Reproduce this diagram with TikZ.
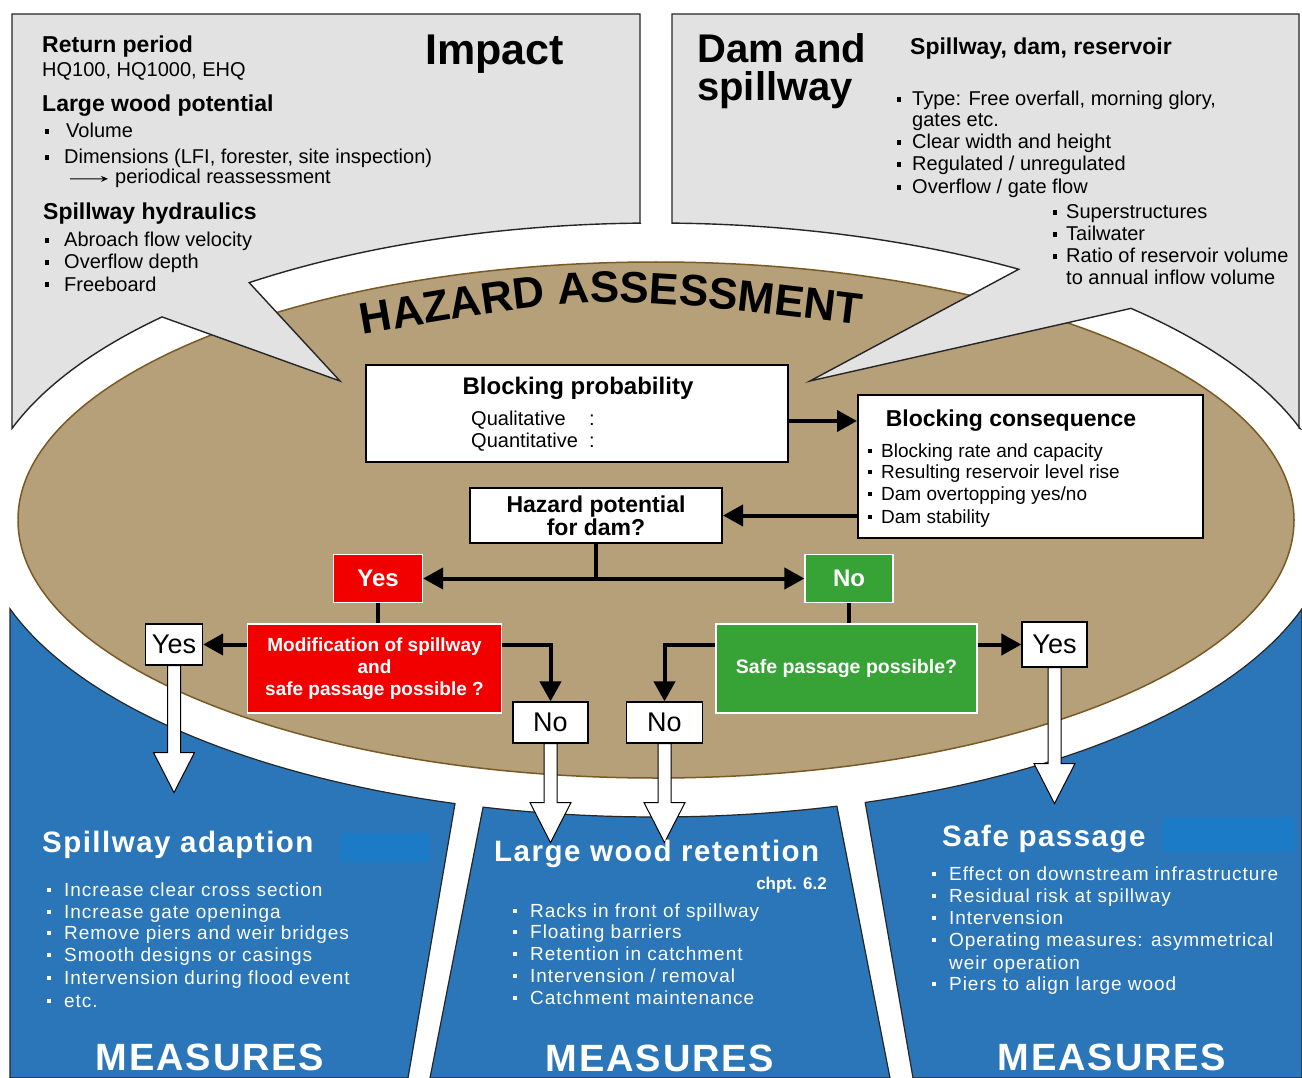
\documentclass[tikz,border=0pt]{standalone}
\usepackage{fontspec}
\setmainfont{Liberation Sans}
\newfontfamily\widefont[LetterSpace=5]{Liberation Sans}
\usetikzlibrary{arrows.meta,decorations.text,calc}
\definecolor{panelblue}{HTML}{2A76B8}
\definecolor{rectblue}{HTML}{1B7BC6}
\definecolor{tanfill}{HTML}{B5A07A}
\definecolor{tanedge}{HTML}{7A5A24}
\definecolor{bubblegray}{HTML}{E2E2E2}
\definecolor{boxred}{HTML}{F20000}
\definecolor{boxgreen}{HTML}{37A337}
\newcommand\bul{\raisebox{0.22em}{\rule{0.21em}{0.21em}}}
\newcommand\bi[1]{\makebox[#1][l]{\bul}}
\newcommand\hollowarr[2]{%
  \filldraw[hollowarrow] ([xshift=-6.5pt]#1.south) -- ++(0,{#2-40}) -- ++(-14,0) -- ++(20.5,40) -- ++(20.5,-40) -- ++(-14,0) -- ++(0,{-(#2-40)}) -- cycle;}
\begin{document}
\begin{tikzpicture}[x=1pt,y=-1pt,
  tl/.style={anchor=base west,inner sep=0pt,font=\fontsize{20}{24}\selectfont},
  hd/.style={anchor=base west,inner sep=0pt,font=\fontsize{23}{26}\selectfont\bfseries},
  bcl/.style={anchor=base west,inner sep=0pt,font=\fontsize{19}{22}\selectfont},
  wb/.style={anchor=base west,inner sep=0pt,text=white,font=\widefont\fontsize{19}{22}\selectfont},
  wh/.style={anchor=base west,inner sep=0pt,text=white,font=\widefont\bfseries\fontsize{29.5}{32}\selectfont},
  meas/.style={anchor=base,inner sep=0pt,text=white,font=\widefont\bfseries\fontsize{38}{40}\selectfont},
  bubble/.style={fill=bubblegray,draw=black!85,line width=1.4pt,line join=miter},
  panel/.style={fill=panelblue,draw=black!85,line width=1.2pt},
  wbox/.style={draw=black,fill=white,line width=2pt,inner sep=0pt},
  redbox/.style={fill=boxred,draw=white,line width=1.2pt,text=white,inner sep=0pt,font=\bfseries\fontsize{24}{26}\selectfont},
  greenbox/.style={fill=boxgreen,draw=white,line width=1.2pt,text=white,inner sep=0pt,font=\bfseries\fontsize{24}{26}\selectfont},
  ansbox/.style={draw=black,fill=white,line width=1.2pt,inner sep=0pt,font=\fontsize{27}{28}\selectfont},
  flow/.style={line width=4pt,-{Triangle[length=20pt,width=21pt]}},
  conn/.style={line width=4pt},
  hollowarrow/.style={fill=white,draw=black,line width=1pt,line join=miter}
]
\fill[white] (0,0) rectangle (1302,1078);
\useasboundingbox (0,0) rectangle (1302,1078);

% blue measure panels
\filldraw[panel] (10,1078) -- (10,609) -- plot[domain=162.6:107.27,samples=40] ({656+677*cos(\x)},{520+297*sin(\x)}) -- (408,1078) -- cycle;
\filldraw[panel] (430,1078) -- plot[domain=104.8:74.5,samples=30] ({656+677*cos(\x)},{520+297*sin(\x)}) -- (890,1078) -- cycle;
\filldraw[panel] (913,1078) -- plot[domain=72:17.4,samples=40] ({656+677*cos(\x)},{520+297*sin(\x)}) -- (1302,609) -- (1302,1078) -- cycle;
\fill[rectblue] (340,833) rectangle (430,862);
\fill[rectblue] (1163,817) rectangle (1295,852);

% hazard assessment ellipse
\filldraw[fill=tanfill,draw=tanedge,line width=1.5pt] (656,520) ellipse [x radius=638pt,y radius=258pt];

% speech bubbles
\filldraw[bubble] (12,14) -- (640,14) -- (640,223) -- plot[domain=-91.35:-126.94,samples=40] ({656+677*cos(\x)},{520+297*sin(\x)}) -- (340,381) -- plot[domain=-136.86:-162.05,samples=30] ({656+677*cos(\x)},{520+297*sin(\x)}) -- cycle;
\filldraw[bubble] (672,14) -- (1299,14) -- (1299,428) -- plot[domain=-17.95:-45.44,samples=30] ({656+677*cos(\x)},{520+297*sin(\x)}) -- (810,381) -- plot[domain=-57.6:-88.65,samples=40] ({656+677*cos(\x)},{520+297*sin(\x)}) -- cycle;

% curved title
\path[decorate,decoration={text along path,text align=center,text={|\fontsize{44}{44}\selectfont\bfseries|HAZARD ASSESSMENT}}] (355,336) .. controls (600,293) .. (868,326);

% top-left bubble text
\node[hd] (tl1) at (42,53) {Return period};
\node[tl] (tl2) at (42,77) {HQ100, HQ1000, EHQ};
\node[hd] (tl3) at (42,112) {Large wood potential};
\node[tl] (tl4) at (45,138) {\bi{21pt}Volume};
\node[tl] (tl5) at (45,164) {\bi{19pt}Dimensions (LFI, forester, site inspection)};
\node[tl] (tl6) at (115,184) {periodical reassessment};
\coordinate (pa) at (70,179);
\draw[line width=1pt,-{Stealth[length=7pt,width=6pt]}] (pa) -- ([xshift=-7pt]tl6.west);
\node[hd] (tl7) at (43,220) {Spillway hydraulics};
\node[tl] (tl8) at (45,247) {\bi{19pt}Abroach flow velocity};
\node[tl] (tl9) at (45,269) {\bi{19pt}Overflow depth};
\node[tl] (tl10) at (45,291) {\bi{19pt}Freeboard};
\node[anchor=base west,inner sep=0pt,font=\fontsize{43}{44}\selectfont\bfseries] (impact) at (425,65) {Impact};

% top-right bubble text
\node[anchor=base west,inner sep=0pt,font=\fontsize{40}{40}\selectfont\bfseries] (dam1) at (697,63) {Dam and};
\node[anchor=base west,inner sep=0pt,font=\fontsize{40}{40}\selectfont\bfseries] (dam2) at (697,101) {spillway};
\node[hd] (tr1) at (910,55) {Spillway, dam, reservoir};
\node[tl] (tr2) at (897,106) {\bi{15pt}Type: Free overfall, morning glory,};
\node[tl] (tr3) at (912,127) {gates etc.};
\node[tl] (tr4) at (897,149) {\bi{15pt}Clear width and height};
\node[tl] (tr5) at (897,171) {\bi{15pt}Regulated / unregulated};
\node[tl] (tr6) at (897,194) {\bi{15pt}Overflow / gate flow};
\node[tl] (tr7) at (1053,219) {\bi{13pt}Superstructures};
\node[tl] (tr8) at (1053,241) {\bi{13pt}Tailwater};
\node[tl] (tr9) at (1053,263) {\bi{13pt}Ratio of reservoir volume};
\node[tl] (tr10) at (1066,285) {to annual inflow volume};

% flowchart boxes
\node[wbox,minimum width=422pt,minimum height=97pt] (bp) at (577,413.5) {};
\node[wbox,minimum width=345pt,minimum height=143pt] (bc) at (1030.5,466.5) {};
\node[wbox,minimum width=252pt,minimum height=55pt,align=center,font=\bfseries\fontsize{23}{23}\selectfont] (haz) at (596,515.5) {Hazard potential\\for dam?};
\node[redbox,minimum width=89pt,minimum height=48pt] (yesRed) at (378,578.5) {Yes};
\node[greenbox,minimum width=88pt,minimum height=48pt] (noGreen) at (849,578.5) {No};
\node[redbox,minimum width=254pt,minimum height=89pt,align=center,font=\bfseries\fontsize{19}{22}\selectfont] (mod) at (374.5,668.5) {Modification of spillway\\and\\safe passage possible ?};
\node[greenbox,minimum width=261pt,minimum height=89pt,font=\bfseries\fontsize{19.5}{22}\selectfont] (safe) at (846.5,668.5) {Safe passage possible?};

\node[hd,anchor=base,font=\fontsize{24}{26}\selectfont\bfseries] (bpt) at (578,394) {Blocking probability};
\node[tl] (q1) at (471,425) {Qualitative};
\node[tl] (q2) at (471,447) {Quantitative};
\node[tl] (q1c) at (589,425) {:};
\node[tl] (q2c) at (589,447) {:};
\node[hd,anchor=base] (bct) at (1011,426) {Blocking consequence};
\node[bcl] (bc1) at (868,457) {\bi{13pt}Blocking rate and capacity};
\node[bcl] (bc2) at (868,478) {\bi{13pt}Resulting reservoir level rise};
\node[bcl] (bc3) at (868,500) {\bi{13pt}Dam overtopping yes/no};
\node[bcl] (bc4) at (868,523) {\bi{13pt}Dam stability};

% connectors
\coordinate (bpout) at ([yshift=-7.5pt]bp.east);
\draw[flow] (bpout) -- (bpout -| bc.west);
\draw[flow] (haz.east -| bc.west) -- (haz.east);
\draw[flow] (haz.south) |- (yesRed.east);
\draw[flow] (haz.south) |- (noGreen.west);
\draw[conn] (yesRed.south) -- (mod.north -| yesRed.south);
\draw[conn] (noGreen.south) -- (safe.north -| noGreen.south);

\node[ansbox,minimum width=57pt,minimum height=41pt] (yesL) at (174,644.5) {Yes};
\node[ansbox,minimum width=75pt,minimum height=41pt] (noL) at (550.5,722.5) {No};
\node[ansbox,minimum width=76pt,minimum height=41pt] (noR) at (664.5,722.5) {No};
\node[ansbox,minimum width=65pt,minimum height=45pt] (yesR) at (1054.5,644.5) {Yes};

\draw[flow] (mod.west |- yesL.east) -- (yesL.east);
\draw[flow] (mod.east |- yesL.east) -| (noL.north);
\draw[flow] (safe.west |- yesR.west) -| (noR.north);
\draw[flow] (safe.east |- yesR.west) -- (yesR.west);

% hollow arrows into the measures
\hollowarr{yesL}{127}
\hollowarr{noL}{99}
\hollowarr{noR}{99}
\hollowarr{yesR}{136}

% measure panel texts
\node[wh] (sa) at (42,852) {Spillway adaption};
\node[wb] (sa1) at (47,896) {\bi{17pt}Increase clear cross section};
\node[wb] (sa2) at (47,918) {\bi{17pt}Increase gate openinga};
\node[wb] (sa3) at (47,939) {\bi{17pt}Remove piers and weir bridges};
\node[wb] (sa4) at (47,961) {\bi{17pt}Smooth designs or casings};
\node[wb] (sa5) at (47,984) {\bi{17pt}Intervension during flood event};
\node[wb] (sa6) at (47,1007) {\bi{17pt}etc.};
\node[meas] (m1) at (210,1070) {MEASURES};

\node[wh] (lw) at (494,861) {Large wood retention};
\node[anchor=base east,inner sep=0pt,text=white,font=\bfseries\fontsize{17}{18}\selectfont] (chpt) at (827,889) {chpt. 6.2};
\node[wb] (lw1) at (513,917) {\bi{17pt}Racks in front of spillway};
\node[wb] (lw2) at (513,938) {\bi{17pt}Floating barriers};
\node[wb] (lw3) at (513,960) {\bi{17pt}Retention in catchment};
\node[wb] (lw4) at (513,982) {\bi{17pt}Intervension / removal};
\node[wb] (lw5) at (513,1004) {\bi{17pt}Catchment maintenance};
\node[meas] (m2) at (660,1071) {MEASURES};

\node[wh] (sp) at (942,846) {Safe passage};
\node[wb] (sp1) at (932,880) {\bi{17pt}Effect on downstream infrastructure};
\node[wb] (sp2) at (932,902) {\bi{17pt}Residual risk at spillway};
\node[wb] (sp3) at (932,924) {\bi{17pt}Intervension};
\node[wb] (sp4) at (932,946) {\bi{17pt}Operating measures: asymmetrical};
\node[wb] (sp5) at (949,969) {weir operation};
\node[wb] (sp6) at (932,990) {\bi{17pt}Piers to align large wood};
\node[meas] (m3) at (1112,1070) {MEASURES};
\end{tikzpicture}
\end{document}
